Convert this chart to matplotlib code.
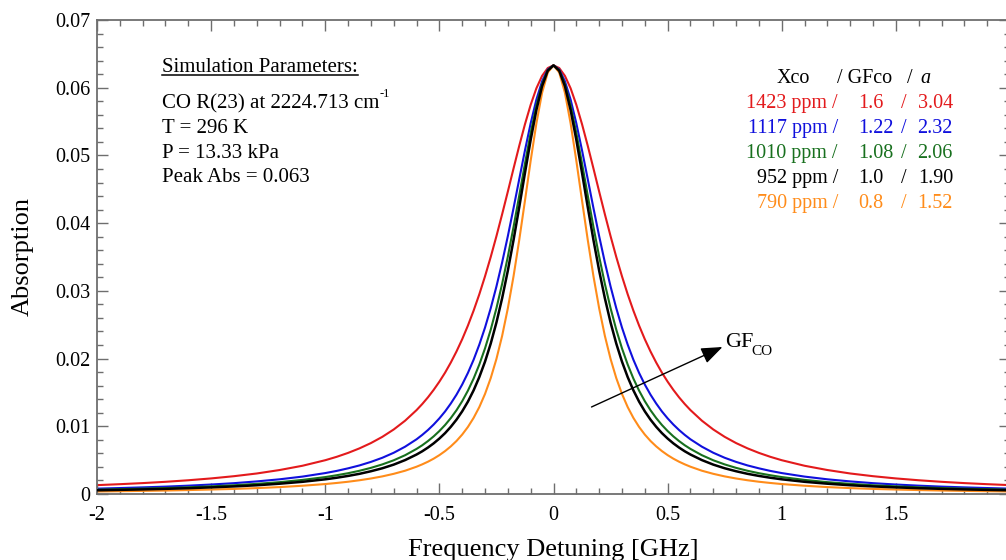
import numpy as np
import matplotlib
matplotlib.use('Agg')
import matplotlib.pyplot as plt
from matplotlib.ticker import MultipleLocator, FixedLocator, FixedFormatter
from matplotlib.lines import Line2D

# ---------------- data (half profiles, symmetric about 0) ----------------
detuning_half = [0.000, 0.025, 0.050, 0.075, 0.100, 0.125, 0.150, 0.175, 0.200, 0.225,
                 0.250, 0.275, 0.300, 0.325, 0.350, 0.375, 0.400, 0.425, 0.450, 0.475,
                 0.500, 0.525, 0.550, 0.575, 0.600,
                 0.65, 0.70, 0.75, 0.80, 0.85, 0.90, 0.95, 1.00,
                 1.1, 1.2, 1.3, 1.4, 1.5, 1.6, 1.7, 1.8, 1.9, 2.0]

abs_1423 = [0.06330, 0.06291, 0.06175, 0.05991, 0.05748, 0.05461, 0.05143, 0.04808, 0.04467, 0.04132,
            0.03808, 0.03501, 0.03215, 0.02950, 0.02708, 0.02487, 0.02286, 0.02105, 0.01941, 0.01792,
            0.01659, 0.01538, 0.01428, 0.01329, 0.01239,
            0.01083, 0.00953, 0.00844, 0.00752, 0.00674, 0.00607, 0.00549, 0.00499,
            0.00417, 0.00354, 0.00303, 0.00263, 0.00230, 0.00203, 0.00180, 0.00161, 0.00145, 0.00131]

abs_1117 = [0.06330, 0.06270, 0.06096, 0.05824, 0.05475, 0.05075, 0.04651, 0.04223, 0.03809, 0.03421,
            0.03065, 0.02744, 0.02458, 0.02206, 0.01983, 0.01788, 0.01617, 0.01467, 0.01336, 0.01219,
            0.01117, 0.01026, 0.00945, 0.00873, 0.00808,
            0.00699, 0.00609, 0.00535, 0.00474, 0.00422, 0.00379, 0.00341, 0.00309,
            0.00257, 0.00217, 0.00186, 0.00160, 0.00140, 0.00123, 0.00109, 0.00098, 0.00088, 0.00079]

abs_1010 = [0.06330, 0.06259, 0.06054, 0.05735, 0.05333, 0.04880, 0.04409, 0.03945, 0.03506, 0.03104,
            0.02744, 0.02427, 0.02151, 0.01912, 0.01705, 0.01526, 0.01371, 0.01237, 0.01121, 0.01019,
            0.00930, 0.00851, 0.00782, 0.00720, 0.00666,
            0.00573, 0.00498, 0.00437, 0.00386, 0.00343, 0.00307, 0.00277, 0.00250,
            0.00208, 0.00175, 0.00150, 0.00129, 0.00113, 0.00099, 0.00088, 0.00079, 0.00071, 0.00064]

abs_952 = [0.06330, 0.06251, 0.06023, 0.05670, 0.05230, 0.04741, 0.04238, 0.03751, 0.03299, 0.02892,
           0.02533, 0.02222, 0.01955, 0.01727, 0.01531, 0.01364, 0.01221, 0.01098, 0.00992, 0.00899,
           0.00819, 0.00748, 0.00686, 0.00631, 0.00583,
           0.00501, 0.00434, 0.00380, 0.00336, 0.00298, 0.00267, 0.00240, 0.00217,
           0.00180, 0.00152, 0.00129, 0.00112, 0.00098, 0.00086, 0.00076, 0.00068, 0.00061, 0.00055]

abs_790 = [0.06330, 0.06225, 0.05926, 0.05473, 0.04923, 0.04333, 0.03754, 0.03217, 0.02743, 0.02336,
           0.01995, 0.01712, 0.01478, 0.01284, 0.01124, 0.00990, 0.00878, 0.00783, 0.00703, 0.00634,
           0.00574, 0.00522, 0.00477, 0.00438, 0.00403,
           0.00344, 0.00298, 0.00260, 0.00229, 0.00203, 0.00181, 0.00163, 0.00147,
           0.00122, 0.00102, 0.00087, 0.00075, 0.00066, 0.00058, 0.00051, 0.00046, 0.00041, 0.00037]

series_names = ['1423', '1117', '1010', '952', '790']
xco_labels = ['1423 ppm /', '1117 ppm /', '1010 ppm /', '952 ppm /', '790 ppm /']
gfco_labels = ['1.6', '1.22', '1.08', '1.0', '0.8']
a_labels = ['3.04', '2.32', '2.06', '1.90', '1.52']
series_colors = ['#e31a1c', '#1010dd', '#18701e', '#000000', '#ff8c1a']

xtick_values = [-2, -1.5, -1, -0.5, 0, 0.5, 1, 1.5, 2]
xtick_labels = ['-2', '-1.5', '-1', '-0.5', '0', '0.5', '1', '1.5', '2']
ytick_values = [0, 0.01, 0.02, 0.03, 0.04, 0.05, 0.06, 0.07]
ytick_labels = ['0', '0.01', '0.02', '0.03', '0.04', '0.05', '0.06', '0.07']

param_lines = ['CO R(23) at 2224.713 cm', 'T = 296 K', 'P = 13.33 kPa', 'Peak Abs = 0.063']

# ---------------- style ----------------
plt.rcParams['font.family'] = ['Liberation Serif', 'DejaVu Serif']
plt.rcParams['mathtext.fontset'] = 'custom'
plt.rcParams['mathtext.rm'] = 'Liberation Serif'
plt.rcParams['mathtext.it'] = 'Liberation Serif:italic'
plt.rcParams['mathtext.bf'] = 'Liberation Serif:bold'

W, H = 1006, 560
fig = plt.figure(figsize=(W / 100, H / 100), dpi=100)
ax = fig.add_axes([97 / W, 66 / H, 913 / W, 474 / H])

def fx(px):
    return px / W

def fy(py):
    return 1 - py / H

x_half = np.array(detuning_half)
x_full = np.concatenate([-x_half[:0:-1], x_half])
all_series = [abs_1423, abs_1117, abs_1010, abs_952, abs_790]
draw_order = [0, 1, 2, 4, 3]
for i in draw_order:
    y = np.array(all_series[i])
    y_full = np.concatenate([y[:0:-1], y])
    ax.plot(x_full, y_full, color=series_colors[i], lw=1.8 if i == 3 else 1.5,
            solid_joinstyle='round', zorder=2 + (1 if i == 3 else 0))

ax.set_xlim(-2, 2)
ax.set_ylim(0, 0.07)
ax.xaxis.set_major_locator(FixedLocator(xtick_values))
ax.xaxis.set_major_formatter(FixedFormatter(xtick_labels))
ax.yaxis.set_major_locator(FixedLocator(ytick_values))
ax.yaxis.set_major_formatter(FixedFormatter(ytick_labels))
ax.xaxis.set_minor_locator(MultipleLocator(0.1))
ax.yaxis.set_minor_locator(MultipleLocator(0.002))

spine_col = '#6e6e6e'
for s in ax.spines.values():
    s.set_color(spine_col)
    s.set_linewidth(1.3)
ax.tick_params(which='both', direction='in', top=True, right=True, color=spine_col,
               labelsize=14.5, labelcolor='black')
ax.tick_params(which='major', length=8, width=1.0)
ax.tick_params(which='minor', length=4.5, width=1.0)
ax.tick_params(axis='y', which='major', pad=5)
ax.tick_params(axis='x', which='major', pad=9)

ax.set_xlabel('Frequency Detuning [GHz]', fontsize=19)
ax.set_ylabel('Absorption', fontsize=19)
ax.xaxis.set_label_coords(0.5, (494 - 539) / 474)
ax.xaxis.label.set_va('top')
ax.yaxis.set_label_coords((23 - 97) / 913, 0.5)
ax.yaxis.label.set_va('center')

# Simulation parameters block
title_t = fig.text(fx(162), fy(72), 'Simulation Parameters:', fontsize=15, ha='left', va='baseline')
param_baselines = [108, 133, 158, 182]
line_texts = []
for txt, b in zip(param_lines, param_baselines):
    line_texts.append(fig.text(fx(162), fy(b), txt, fontsize=15, ha='left', va='baseline'))

# Legend-like table
fig.text(fx(777), fy(83), 'Xco', fontsize=14.5, ha='left', va='baseline')
fig.text(fx(837), fy(83), '/ GFco', fontsize=14.5, ha='left', va='baseline')
fig.text(fx(907), fy(83), '/', fontsize=14.5, ha='left', va='baseline')
fig.text(fx(920), fy(83), 'a', fontsize=14.5, ha='left', va='baseline', style='italic')
row_baselines = [108, 133, 158, 183, 208]
for i, b in enumerate(row_baselines):
    c = series_colors[i]
    fig.text(fx(838), fy(b), xco_labels[i], fontsize=14.5, ha='right', va='baseline', color=c)
    fig.text(fx(858), fy(b), gfco_labels[i], fontsize=14.5, ha='left', va='baseline', color=c)
    fig.text(fx(901), fy(b), '/', fontsize=14.5, ha='left', va='baseline', color=c)
    fig.text(fx(953), fy(b), a_labels[i], fontsize=14.5, ha='right', va='baseline', color=c)

# GF_CO arrow
ax.annotate('', xy=(0.7403, 0.02171), xytext=(0.1665, 0.01285),
            arrowprops=dict(arrowstyle='-|>,head_length=1.3,head_width=0.5', color='black',
                            lw=1.0, shrinkA=0, shrinkB=0), zorder=5)
fig.text(fx(725), fy(347), 'GF', fontsize=16, ha='left', va='baseline')
fig.text(fx(751), fy(355), 'CO', fontsize=11, ha='left', va='baseline')

# underline for the title, superscript for cm^-1
fig.canvas.draw()
bb = title_t.get_window_extent()
yline = (H - 74.5) / H
fig.add_artist(Line2D([bb.x0 / W, bb.x1 / W], [yline, yline], transform=fig.transFigure,
                      color='black', lw=1.1))
bb2 = line_texts[0].get_window_extent()
fig.text((bb2.x1 + 0.5) / W, fy(97), '-1', fontsize=9, ha='left', va='baseline')

fig.savefig('out.png', dpi=100)
